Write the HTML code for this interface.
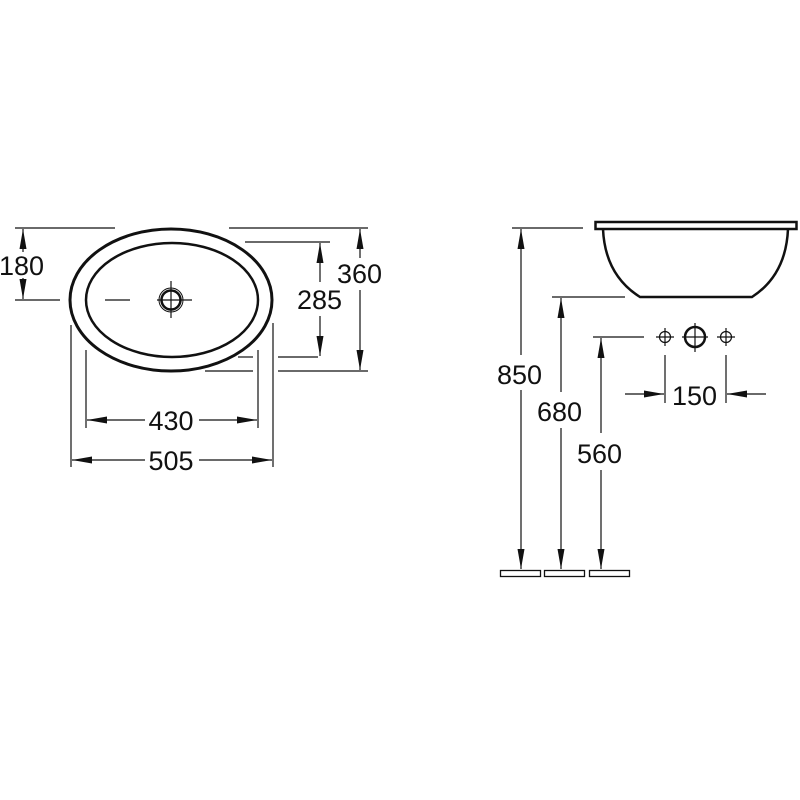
<!DOCTYPE html>
<html><head><meta charset="utf-8"><style>
html,body{margin:0;padding:0;background:#fff;}
svg{display:block}
text{font-family:"Liberation Sans",sans-serif;font-size:27px;fill:#111;}
</style></head><body>
<svg width="800" height="800" viewBox="0 0 800 800" xmlns="http://www.w3.org/2000/svg">
<defs>
<marker id="a" viewBox="0 0 20 10" refX="20" refY="5" markerWidth="20" markerHeight="10" markerUnits="userSpaceOnUse" orient="auto"><path d="M0,1.5 L20,5 L0,8.5 Z" fill="#111"/></marker>
</defs>
<g stroke="#111" fill="none">
<!-- left view basin -->
<ellipse cx="171" cy="300" rx="101" ry="71" stroke-width="3"/>
<ellipse cx="172" cy="300" rx="86" ry="57" stroke-width="2.5"/>
<circle cx="171" cy="300" r="12" stroke-width="1"/>
<circle cx="171" cy="300" r="9.5" stroke-width="2.5"/>
<g stroke-width="1.2">
<line x1="157" y1="300" x2="192" y2="300"/>
<line x1="171" y1="281" x2="171" y2="318"/>
<line x1="15" y1="300" x2="60" y2="300"/>
<line x1="105" y1="300" x2="130" y2="300"/>
<!-- 180 -->
<line x1="15" y1="228" x2="115" y2="228"/>
<line x1="23" y1="252" x2="23" y2="229" marker-end="url(#a)"/>
<line x1="23" y1="278" x2="23" y2="299" marker-end="url(#a)"/>
<!-- 360 -->
<line x1="229" y1="228" x2="368" y2="228"/>
<line x1="205" y1="371" x2="253" y2="371"/>
<line x1="278" y1="371" x2="368" y2="371"/>
<line x1="360" y1="258" x2="360" y2="229" marker-end="url(#a)"/>
<line x1="360" y1="290" x2="360" y2="370" marker-end="url(#a)"/>
<!-- 285 -->
<line x1="245" y1="242" x2="330" y2="242"/>
<line x1="238" y1="357" x2="253" y2="357"/>
<line x1="278" y1="357" x2="318" y2="357"/>
<line x1="320" y1="282" x2="320" y2="243" marker-end="url(#a)"/>
<line x1="320" y1="316" x2="320" y2="356" marker-end="url(#a)"/>
<!-- 430 -->
<line x1="86" y1="350" x2="86" y2="428"/>
<line x1="258" y1="350" x2="258" y2="428"/>
<line x1="145" y1="420" x2="87" y2="420" marker-end="url(#a)"/>
<line x1="199" y1="420" x2="257" y2="420" marker-end="url(#a)"/>
<!-- 505 -->
<line x1="71" y1="325" x2="71" y2="467"/>
<line x1="273" y1="323" x2="273" y2="467"/>
<line x1="145" y1="460" x2="72" y2="460" marker-end="url(#a)"/>
<line x1="199" y1="460" x2="272" y2="460" marker-end="url(#a)"/>
</g>
<!-- right view bowl -->
<rect x="595.5" y="222" width="201" height="7" stroke-width="2.5"/>
<path d="M603,229 Q605,275 640,297 L752,297 Q786,275 788,229" stroke-width="2.5"/>
<g stroke-width="1.2">
<line x1="512" y1="228" x2="583" y2="228"/>
<line x1="521" y1="355" x2="521" y2="229" marker-end="url(#a)"/>
<line x1="521" y1="390" x2="521" y2="569" marker-end="url(#a)"/>
<line x1="552" y1="297" x2="625" y2="297"/>
<line x1="561" y1="392" x2="561" y2="298" marker-end="url(#a)"/>
<line x1="561" y1="428" x2="561" y2="569" marker-end="url(#a)"/>
<line x1="593" y1="337" x2="644" y2="337"/>
<line x1="601" y1="433" x2="601" y2="338" marker-end="url(#a)"/>
<line x1="601" y1="470" x2="601" y2="569" marker-end="url(#a)"/>
<!-- fixtures -->
<circle cx="665" cy="337" r="5.5"/>
<line x1="656" y1="337" x2="674" y2="337"/><line x1="665" y1="328" x2="665" y2="346"/>
<circle cx="726" cy="337" r="5.5"/>
<line x1="717" y1="337" x2="735" y2="337"/><line x1="726" y1="328" x2="726" y2="346"/>
<line x1="682" y1="337" x2="708" y2="337"/><line x1="695" y1="323" x2="695" y2="352"/>
<line x1="665" y1="355" x2="665" y2="403"/>
<line x1="726" y1="355" x2="726" y2="403"/>
<line x1="625" y1="394" x2="664" y2="394" marker-end="url(#a)"/>
<line x1="766" y1="394" x2="727" y2="394" marker-end="url(#a)"/>
</g>
<circle cx="695" cy="337" r="10" stroke-width="2.5"/>
<g stroke-width="1.3">
<rect x="500.5" y="570.5" width="40" height="6"/>
<rect x="544.5" y="570.5" width="40" height="6"/>
<rect x="589.5" y="570.5" width="40" height="6"/>
</g>
</g>
<text x="-1" y="275">180</text>
<text x="337" y="283">360</text>
<text x="297" y="309">285</text>
<text x="171" y="430" text-anchor="middle">430</text>
<text x="171" y="470" text-anchor="middle">505</text>
<text x="497" y="384">850</text>
<text x="537" y="421">680</text>
<text x="577" y="463">560</text>
<text x="672" y="405">150</text>
</svg>
</body></html>
